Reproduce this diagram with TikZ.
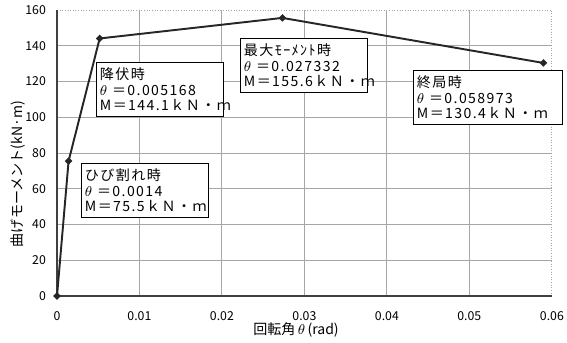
\documentclass[tikz,border=0pt]{standalone}
\usepackage{fontspec}
\setmainfont{Noto Sans CJK JP}
\newfontfamily\boxfont{Noto Sans CJK JP}[LetterSpace=10]
\usetikzlibrary{shapes.geometric}
\tikzset{
  grid line/.style={gray!70, line width=0.5pt},
  frame line/.style={gray!70, densely dotted, line width=0.5pt},
  axis line/.style={black!75, line width=0.6pt},
  ticklabel/.style={font=\fontsize{7}{8}\selectfont, inner sep=1pt},
  axislabel/.style={font=\fontsize{8}{9}\selectfont, inner sep=0pt},
  infobox/.style={draw, fill=white, line width=0.5pt, anchor=north west,
    align=left, inner sep=2pt, text width=68pt, minimum height=1.08cm,
    font=\boxfont\fontsize{8}{8.8}\selectfont},
  datapt/.style={diamond, fill=black!85, inner sep=0pt, minimum size=4.5pt},
  curve/.style={black!85, line width=1.1pt},
}
\begin{document}
\begin{tikzpicture}[x=0.02cm, y=0.02cm]
  \useasboundingbox (0,0) rectangle (567,342);
  \begin{scope}[shift={(57,46)}, x=165cm, y=0.03575cm]
    % grid
    \foreach \v in {20,40,...,140}
      \draw [grid line] (0,\v) -- (0.06,\v);
    \foreach \i in {1,...,5}
      \draw [grid line] (\i/100,0) -- (\i/100,160);
    \draw [frame line] (0,160) -- (0.06,160) -- (0.06,0);
    \draw [axis line] (0,160) -- (0,0) -- (0.06,0);
    % ticks
    \node [ticklabel, anchor=north] (xt0) at (0,0) [yshift=-0.26cm] {0};
    \foreach \i in {1,...,6}
      \node [ticklabel, anchor=north] (xt\i) at (\i/100,0) [yshift=-0.26cm] {0.0\i};
    \foreach \v in {0,20,...,160}
      \node [ticklabel, anchor=east] (yt\v) at (0,\v) [xshift=-0.18cm] {\v};
    % data
    \node [datapt] (p0) at (0,0) {};
    \node [datapt] (p1) at (0.0014,75.5) {};
    \node [datapt] (p2) at (0.005168,144.1) {};
    \node [datapt] (p3) at (0.027332,155.6) {};
    \node [datapt] (p4) at (0.058973,130.4) {};
    \draw [curve] (p0.center) -- (p1.center) -- (p2.center) -- (p3.center) -- (p4.center);
  \end{scope}
  % labels
  \node [infobox] (crack) at (81,179) {ひび割れ時\\$\theta$ ＝0.0014\\M＝75.5ｋＮ・ｍ};
  \node [infobox] (yield) at (96,280) {降伏時\\$\theta$ ＝0.005168\\M＝144.1ｋＮ・ｍ};
  \node [infobox] (peak) at (240,304) {最大ﾓｰﾒﾝﾄ時\\$\theta$ ＝0.027332\\M＝155.6ｋＮ・ｍ};
  \node [infobox, text width=81pt] (ult) at (413,272) {終局時\\$\theta$ ＝0.058973\\M＝130.4ｋＮ・ｍ};
  \node [axislabel] (xlab) at (296,12) {回転角\,$\theta$\,(rad)};
  \node [axislabel, rotate=90] (ylab) at (18,168) {曲げモーメント(kN·m)};
\end{tikzpicture}
\end{document}
